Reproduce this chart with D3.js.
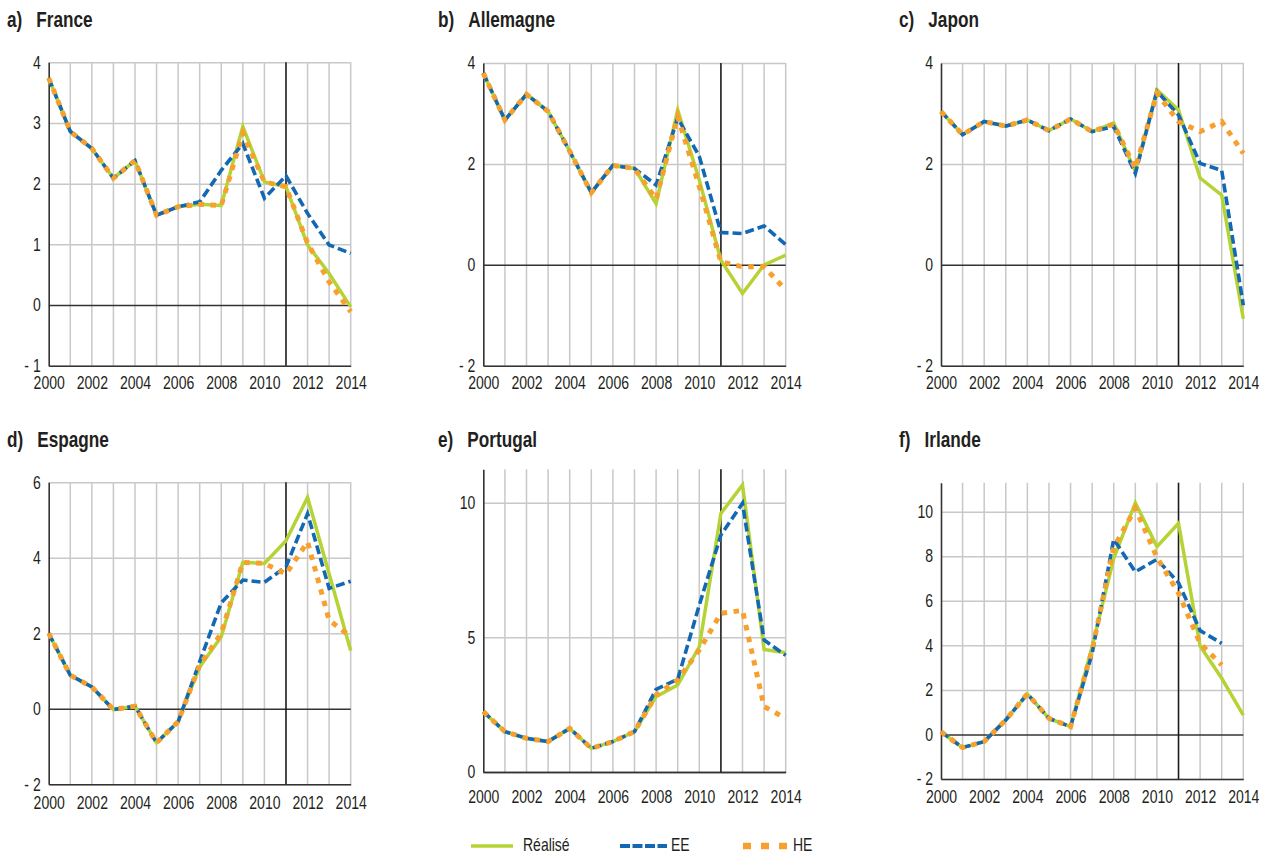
<!DOCTYPE html>
<html><head><meta charset="utf-8">
<script src="https://cdn.jsdelivr.net/npm/d3@7"></script>
<style>
body{margin:0;background:#fff}
svg{display:block}
text{font-family:"Liberation Sans",Arial,sans-serif;fill:#231f20}
</style>
</head><body>
<svg id="chart" width="1267" height="854"></svg>
<script>
// ---------- DATA ----------
const years = [2000,2001,2002,2003,2004,2005,2006,2007,2008,2009,2010,2011,2012,2013,2014];
const panelLetters = ["a)","b)","c)","d)","e)","f)"];
const countries = ["France","Allemagne","Japon","Espagne","Portugal","Irlande"];
const seriesNames = ["Réalisé","EE","HE"];
const markerYear = 2011;

const franceRealise = [3.74,2.86,2.58,2.09,2.38,1.48,1.62,1.66,1.64,2.94,2.03,1.95,0.99,0.52,-0.03];
const franceEE      = [3.74,2.86,2.58,2.09,2.38,1.48,1.62,1.70,2.22,2.66,1.76,2.13,1.51,0.99,0.85];
const franceHE      = [3.74,2.86,2.58,2.09,2.38,1.48,1.62,1.66,1.64,2.83,2.03,1.95,1.02,0.38,-0.11];

const allemagneRealise = [3.80,2.87,3.38,3.04,2.25,1.43,1.97,1.91,1.21,3.07,1.68,0.09,-0.57,0.00,0.19];
const allemagneEE      = [3.80,2.87,3.38,3.04,2.25,1.43,1.97,1.91,1.58,2.91,2.15,0.64,0.62,0.77,0.40];
const allemagneHE      = [3.80,2.87,3.38,3.04,2.25,1.43,1.97,1.91,1.30,2.94,1.55,0.06,-0.04,-0.04,-0.50];

const japonRealise = [3.04,2.58,2.84,2.75,2.87,2.66,2.89,2.64,2.81,1.85,3.47,3.07,1.72,1.38,-1.07];
const japonEE      = [3.04,2.58,2.84,2.75,2.87,2.66,2.89,2.64,2.74,1.81,3.44,2.97,2.01,1.87,-0.80];
const japonHE      = [3.04,2.58,2.84,2.75,2.87,2.66,2.89,2.64,2.79,1.91,3.40,2.84,2.64,2.84,2.21];

const espagneRealise = [2.00,0.89,0.58,-0.02,0.07,-0.90,-0.34,1.11,1.91,3.88,3.85,4.45,5.60,3.58,1.54];
const espagneEE      = [2.00,0.89,0.58,-0.02,0.07,-0.90,-0.34,1.25,2.81,3.41,3.35,3.76,5.17,3.19,3.38];
const espagneHE      = [2.00,0.89,0.58,-0.02,0.07,-0.90,-0.34,1.16,2.00,3.88,3.85,3.57,4.42,2.35,1.91];

const portugalRealise = [2.24,1.50,1.25,1.13,1.62,0.88,1.13,1.50,2.80,3.23,4.65,9.60,10.66,4.55,4.43];
const portugalEE      = [2.24,1.50,1.25,1.13,1.62,0.88,1.13,1.50,3.07,3.44,6.20,8.80,9.98,4.90,4.33];
const portugalHE      = [2.24,1.50,1.25,1.13,1.62,0.88,1.13,1.50,2.86,3.42,4.53,5.89,6.00,2.43,1.99];

const irlandeRealise = [0.12,-0.59,-0.32,0.65,1.82,0.72,0.35,3.94,7.90,10.40,8.43,9.48,3.97,2.52,0.87];
const irlandeEE      = [0.12,-0.59,-0.32,0.65,1.82,0.72,0.35,3.64,8.76,7.30,7.86,6.81,4.66,4.09,null];
const irlandeHE      = [0.12,-0.59,-0.32,0.65,1.82,0.72,0.35,3.79,8.39,10.15,7.95,6.34,4.09,3.12,null];

const franceTicks    = [-1,0,1,2,3,4];
const allemagneTicks = [-2,0,2,4];
const japonTicks     = [-2,0,2,4];
const espagneTicks   = [-2,0,2,4,6];
const portugalTicks  = [0,5,10];
const irlandeTicks   = [-2,0,2,4,6,8,10];

const franceDomain    = [-1,4];
const allemagneDomain = [-2,4];
const japonDomain     = [-2,4];
const espagneDomain   = [-2,6];
const portugalDomain  = [0,11.24];
const irlandeDomain   = [-2,11.3];

// ---------- LAYOUT / STYLE ----------
const layout = [
  {x0:48.7, x1:350.7, top:62.3, bot:365.7, lx:7,   ty:27.3, xpad:11},
  {x0:483.3,x1:785.7, top:63,   bot:365.7, lx:438, ty:27.3, xpad:11},
  {x0:941,  x1:1243.3,top:63,   bot:365.7, lx:899, ty:27.3, xpad:11},
  {x0:48.7, x1:350.7, top:482.3,bot:784.3, lx:7,   ty:447.3,xpad:12},
  {x0:483.3,x1:785.7, top:469.3,bot:772,   lx:438, ty:447.3,xpad:19},
  {x0:941,  x1:1243.3,top:482.7,bot:779,   lx:899, ty:447.3,xpad:12}
];
const SX = 0.78; // horizontal condensation of text
const FS = 18;
const colors = {"Réalisé":"#b5d334","EE":"#1368b3","HE":"#f7a02e"};
const styles = {
  "Réalisé":{w:3.5, dash:null},
  "EE":{w:3.6, dash:"9,4"},
  "HE":{w:5, dash:"5.5,6.5"}
};
const GRID = "#c8c8c8", DARK = "#333";

const panels = [
  {realise:franceRealise, ee:franceEE, he:franceHE, ticks:franceTicks, domain:franceDomain},
  {realise:allemagneRealise, ee:allemagneEE, he:allemagneHE, ticks:allemagneTicks, domain:allemagneDomain},
  {realise:japonRealise, ee:japonEE, he:japonHE, ticks:japonTicks, domain:japonDomain},
  {realise:espagneRealise, ee:espagneEE, he:espagneHE, ticks:espagneTicks, domain:espagneDomain},
  {realise:portugalRealise, ee:portugalEE, he:portugalHE, ticks:portugalTicks, domain:portugalDomain},
  {realise:irlandeRealise, ee:irlandeEE, he:irlandeHE, ticks:irlandeTicks, domain:irlandeDomain}
];

const svg = d3.select("#chart");
svg.append("rect").attr("width",1267).attr("height",854).attr("fill","#fff");

const fmt = v => v < 0 ? "- " + Math.abs(v) : String(v);

panels.forEach((p, i) => {
  const L = layout[i];
  const x = d3.scaleLinear().domain([years[0], years[years.length-1]]).range([L.x0, L.x1]);
  const y = d3.scaleLinear().domain(p.domain).range([L.bot, L.top]);
  const g = svg.append("g");

  // vertical gridlines
  g.append("g").selectAll("line").data(years.slice(1)).join("line")
    .attr("x1", d => x(d)).attr("x2", d => x(d))
    .attr("y1", L.top).attr("y2", L.bot)
    .attr("stroke", GRID).attr("stroke-width", 1.5);

  // y axis with horizontal gridlines
  const ya = g.append("g").attr("transform", `translate(${L.x0},0)`)
    .call(d3.axisLeft(y).tickValues(p.ticks).tickSize(-(L.x1 - L.x0)).tickSizeOuter(0)
      .tickPadding(8).tickFormat(fmt));
  ya.selectAll(".tick line")
    .attr("stroke", d => d === 0 ? DARK : GRID)
    .attr("stroke-width", d => d === 0 ? 1.6 : 1.5);
  ya.selectAll(".tick").filter(d => d === 0).raise();
  ya.select(".domain").attr("stroke", DARK).attr("stroke-width", 1.6).raise();
  ya.selectAll("text").attr("font-size", FS).attr("fill", "#231f20")
    .attr("font-family", '"Liberation Sans",Arial,sans-serif')
    .attr("x", -8 / SX).attr("transform", `scale(${SX},1)`);

  // x axis (labels + bottom line)
  const xa = g.append("g").attr("transform", `translate(0,${L.bot})`)
    .call(d3.axisBottom(x).tickValues(years).tickSize(0).tickSizeOuter(0)
      .tickPadding(L.xpad).tickFormat(d => d % 2 === 0 ? String(d) : ""));
  xa.select(".domain").attr("stroke", DARK).attr("stroke-width", 1.6);
  xa.selectAll("text").attr("font-size", FS).attr("fill", "#231f20")
    .attr("font-family", '"Liberation Sans",Arial,sans-serif')
    .attr("dy", "0.68em")
    .attr("transform", `scale(${SX},1)`);

  // 2011 marker
  g.append("line").attr("x1", x(markerYear)).attr("x2", x(markerYear))
    .attr("y1", L.top).attr("y2", L.bot).attr("stroke", "#1a1a1a").attr("stroke-width", 1.5);

  // title
  const t = g.append("text").attr("transform", `translate(${L.lx},${L.ty}) scale(0.8,1)`)
    .attr("font-size", 21.5).attr("font-weight", "bold").text(panelLetters[i]);
  const tw = t.node().getComputedTextLength() * 0.8;
  g.append("text").attr("transform", `translate(${L.lx + tw + 14},${L.ty}) scale(0.8,1)`)
    .attr("font-size", 21.5).attr("font-weight", "bold").text(countries[i]);

  // series
  const line = d3.line().defined(d => d != null).x((d, k) => x(years[k])).y(d => y(d));
  const data = {"Réalisé": p.realise, "EE": p.ee, "HE": p.he};
  seriesNames.forEach(s => {
    const st = styles[s];
    g.append("path").datum(data[s]).attr("d", line)
      .attr("fill", "none").attr("stroke", colors[s]).attr("stroke-width", st.w)
      .attr("stroke-dasharray", st.dash).attr("stroke-linejoin", "miter");
  });
});

// legend
const leg = svg.append("g");
const legendItems = [
  {name:"Réalisé", x1:471, x2:513, tx:523, w:3.5, dash:null},
  {name:"EE", x1:620, x2:667, tx:671, w:4, dash:"10,2.5"},
  {name:"HE", x1:743, x2:787, tx:793, w:6.5, dash:"8,10"}
];
legendItems.forEach(it => {
  leg.append("line").attr("x1", it.x1).attr("x2", it.x2).attr("y1", 846).attr("y2", 846)
    .attr("stroke", colors[it.name]).attr("stroke-width", it.w).attr("stroke-dasharray", it.dash);
  leg.append("text").attr("transform", `translate(${it.tx},850.5) scale(0.8,1)`)
    .attr("font-size", 17.5).text(it.name);
});
</script>
</body></html>
